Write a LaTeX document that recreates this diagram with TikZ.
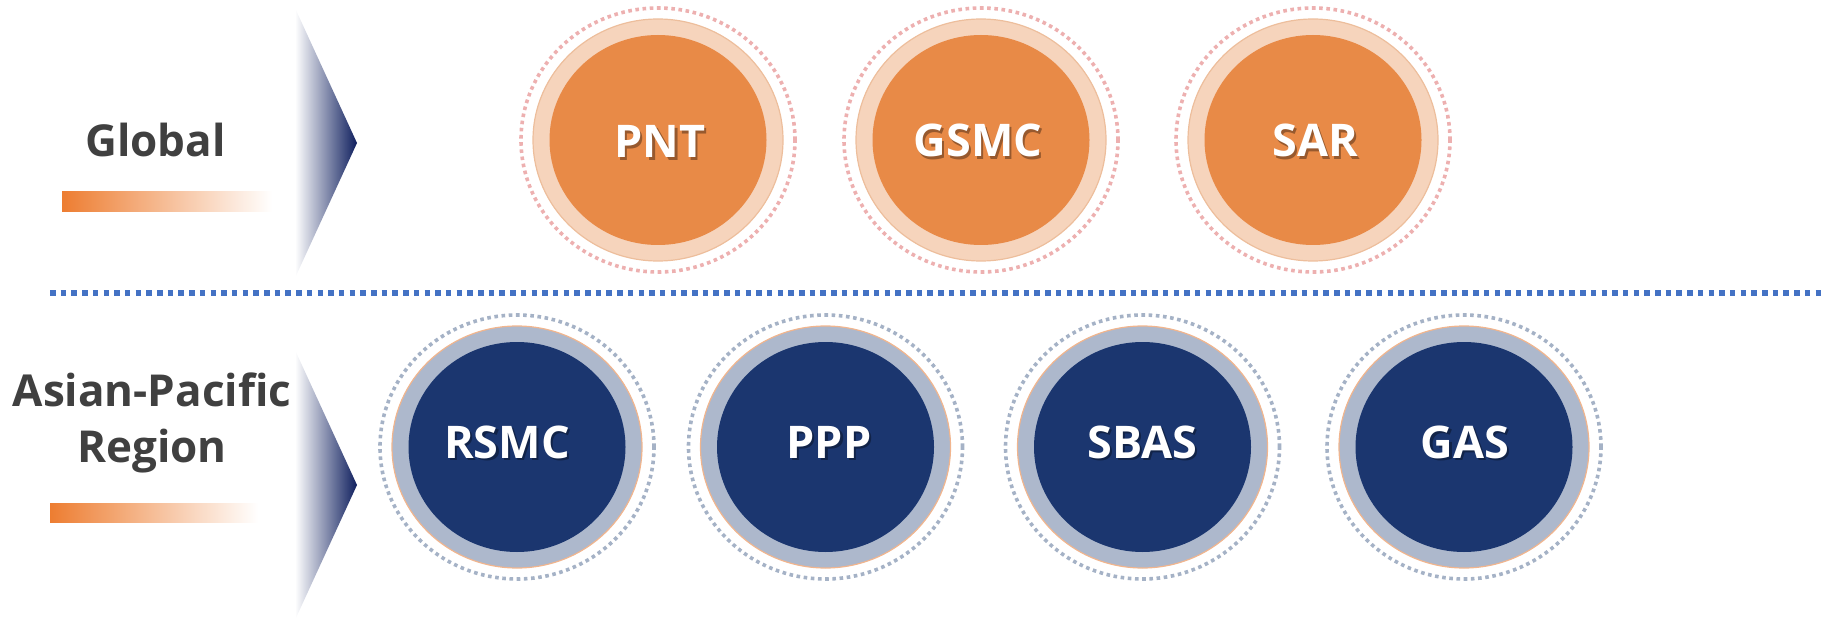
\documentclass[tikz,border=0pt]{standalone}
\usepackage{fontspec}
\setmainfont{Open Sans}
\usetikzlibrary{shapes.geometric,calc}

\definecolor{labelgray}{HTML}{404040}
\definecolor{barorange}{HTML}{ED7D31}
\definecolor{chevnavy}{HTML}{0F1F5E}
\definecolor{divider}{HTML}{4472C4}
% global tier palette
\definecolor{globcore}{HTML}{E88A47}
\definecolor{globring}{HTML}{F6D4BC}
\definecolor{globedge}{HTML}{EDBE9C}
\definecolor{globdot}{HTML}{EDB0B0}
% regional tier palette
\definecolor{regcore}{HTML}{1B366F}
\definecolor{regring}{HTML}{ADB8CC}
\definecolor{regedge}{HTML}{F1B58E}
\definecolor{regdot}{HTML}{A5B2C6}

\tikzset{
  tierlabel/.style={font=\fontsize{44}{56}\selectfont\bfseries, text=labelgray,
    align=center, inner sep=0pt},
  dotring/.style={ellipse, minimum width=274, minimum height=264, inner sep=0pt,
    line width=3.6pt, dash pattern=on 3.6pt off 3.6pt},
  discring/.style={ellipse, minimum width=250, minimum height=242, inner sep=0pt,
    line width=1.2pt},
  disccore/.style={ellipse, minimum width=217, minimum height=210, inner sep=0pt},
  disctext/.style={font=\fontsize{45}{54}\selectfont\bfseries, text=white,
    inner sep=0pt, anchor=base},
  discshadow/.style={disctext, text=black, text opacity=0.35},
}

% one service disc: name, centre, palette prefix
\newcommand\servicedisc[3]{%
  \node[dotring, draw=#3dot] (#1-dots) at #2 {};
  \node[discring, fill=#3ring, draw=#3edge] (#1-ring) at #2 {};
  \node[disccore, fill=#3core] (#1) at #2 {};
}
% white caption with a soft drop shadow
\newcommand\disccaption[3]{%
  \node[discshadow] (#1-shadow) at ($#2+(2.2,2.2)$) {#3};
  \node[disctext] (#1-text) at #2 {#3};
}

\begin{document}
\begin{tikzpicture}[x=1pt, y=-1pt]
  \useasboundingbox (0,0) rectangle (1822,620);

  % tier chevrons
  \shade[left color=white, right color=chevnavy]
    (295,8) -- (357,143) -- (295,278) -- cycle;
  \shade[left color=white, right color=chevnavy]
    (295,350) -- (357,485) -- (295,620) -- cycle;

  % tier labels and their accent bars
  \node[tierlabel, anchor=base] (global) at (155.5,157) {Global};
  \shade[left color=barorange, right color=white] (62,192) rectangle (272,212);

  \node[tierlabel, anchor=base] (apac) at (152,462) {Asian-Pacific\\Region};
  \shade[left color=barorange, right color=white] (50,503) rectangle (258,522);

  % divider between the tiers
  \coordinate (divL) at (50,293);
  \coordinate (divR) at (1822,293);
  \draw[divider, line width=5.5pt, dash pattern=on 5.5pt off 5.2pt] (divL) -- (divR);

  % global services
  \servicedisc{pnt}{(658,140)}{glob}
  \servicedisc{gsmc}{(981,140)}{glob}
  \servicedisc{sar}{(1313,140)}{glob}
  \disccaption{pnt}{(660,158)}{PNT}
  \disccaption{gsmc}{(978,157)}{GSMC}
  \disccaption{sar}{(1315,157)}{SAR}

  % regional services
  \servicedisc{rsmc}{(517,447)}{reg}
  \servicedisc{ppp}{(825.5,447)}{reg}
  \servicedisc{sbas}{(1142.5,447)}{reg}
  \servicedisc{gas}{(1464,447)}{reg}
  \disccaption{rsmc}{(507,458)}{RSMC}
  \disccaption{ppp}{(829,458)}{PPP}
  \disccaption{sbas}{(1142.5,458)}{SBAS}
  \disccaption{gas}{(1465,458)}{GAS}
\end{tikzpicture}
\end{document}
